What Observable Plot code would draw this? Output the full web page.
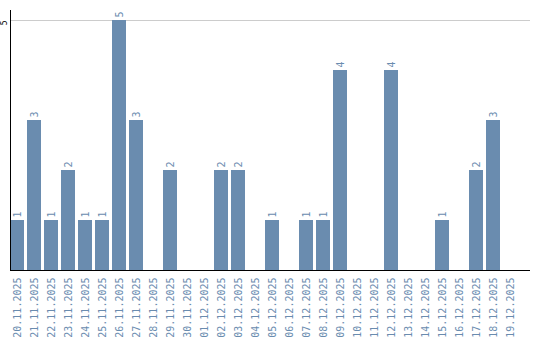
<!DOCTYPE html>
<html><head>
<meta charset="utf-8">
<script src="https://cdn.jsdelivr.net/npm/d3@7"></script>
<script src="https://cdn.jsdelivr.net/npm/@observablehq/plot@0.6"></script>
<style>body{margin:0;background:#fff}</style>
</head><body><div id="chart"></div>
<script>
const dates = ["20.11.2025","21.11.2025","22.11.2025","23.11.2025","24.11.2025","25.11.2025","26.11.2025","27.11.2025","28.11.2025","29.11.2025","30.11.2025","01.12.2025","02.12.2025","03.12.2025","04.12.2025","05.12.2025","06.12.2025","07.12.2025","08.12.2025","09.12.2025","10.12.2025","11.12.2025","12.12.2025","13.12.2025","14.12.2025","15.12.2025","16.12.2025","17.12.2025","18.12.2025","19.12.2025"];
const counts = [1,3,1,2,1,1,5,3,0,2,0,0,2,2,0,1,0,1,1,4,0,0,4,0,0,1,0,2,3,0];
const yTicks = [5];

const data = dates.map((d, i) => ({date: d, count: counts[i]}));
const barColor = "#6a8caf";
const mono = "'DejaVu Sans Mono', monospace";

const chart = Plot.plot({
  width: 540, height: 340,
  marginLeft: 10, marginRight: 10, marginTop: 10, marginBottom: 70,
  style: {fontFamily: mono, background: "#fff"},
  x: {type: "band", domain: dates, range: [10, 517], paddingInner: 3/17, paddingOuter: 0, align: 0, axis: null},
  y: {domain: [0, 5.2], range: [270, 10], axis: null},
  marks: [
    Plot.ruleY(yTicks, {stroke: "#cccccc"}),
    Plot.barY(data, {x: "date", y: "count", fill: barColor}),
    Plot.text(data.filter(d => d.count > 0), {
      x: "date", y: "count", text: d => String(d.count),
      rotate: -90, textAnchor: "start", dy: -3,
      fill: barColor, fontSize: 10, fontFamily: mono
    }),
    Plot.axisX({tickSize: 0, tickPadding: 7, tickRotate: -90, fill: barColor, fontSize: 10, fontFamily: mono, label: null}),
    Plot.text(yTicks, {
      y: d => d, frameAnchor: "left", text: d => String(d),
      rotate: -90, textAnchor: "end", dx: -6,
      fill: "black", fontSize: 8, fontFamily: mono
    }),
    Plot.frame({anchor: "left", stroke: "black"}),
    Plot.ruleY([0], {stroke: "black"})
  ]
});
document.getElementById("chart").appendChild(chart);
</script>
</body></html>
